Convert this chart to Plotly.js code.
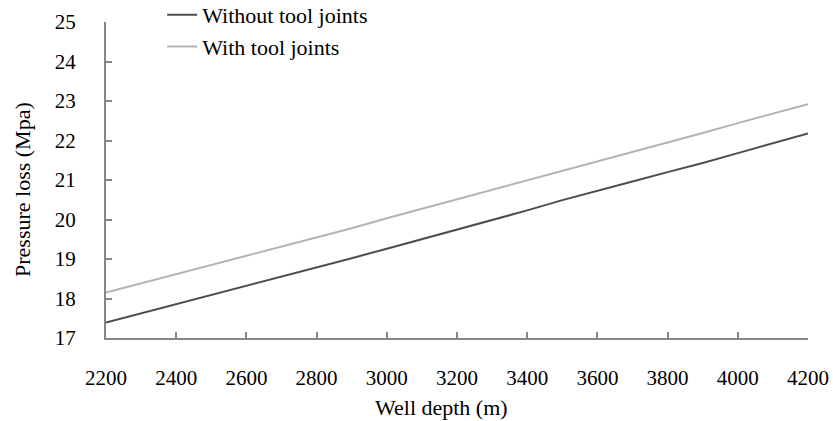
<!DOCTYPE html>
<html>
<head>
<meta charset="utf-8">
<script src="https://cdn.plot.ly/plotly-3.0.1.min.js"></script>
<style>
  html, body { margin: 0; padding: 0; background: #fff; }
  #chart { width: 833px; height: 421px; }
</style>
</head>
<body>
<div id="chart"></div>
<script>
// Well depth (m)
const depth = [2200, 2300, 2400, 2500, 2600, 2700, 2800, 2900, 3000, 3100, 3200,
               3300, 3400, 3500, 3600, 3700, 3800, 3900, 4000, 4100, 4200];

// Pressure loss (MPa)
const withoutJoints = [17.39, 17.62, 17.86, 18.09, 18.32, 18.56, 18.79, 19.02, 19.26, 19.50, 19.74,
                       19.99, 20.23, 20.49, 20.72, 20.96, 21.20, 21.43, 21.68, 21.93, 22.18];
const withJoints = [18.15, 18.38, 18.61, 18.85, 19.08, 19.31, 19.55, 19.78, 20.03, 20.27, 20.50,
                    20.74, 20.98, 21.23, 21.47, 21.71, 21.95, 22.19, 22.44, 22.68, 22.92];

const xTicks = [2200, 2400, 2600, 2800, 3000, 3200, 3400, 3600, 3800, 4000, 4200];
const yTicks = [17, 18, 19, 20, 21, 22, 23, 24, 25];

const xTitle = 'Well depth (m)';
const yTitle = 'Pressure loss (Mpa)';

const serif = '"Liberation Serif", "Times New Roman", serif';
const tickFont = { family: serif, size: 21, color: '#000' };
const titleFont = { family: serif, size: 22, color: '#000' };
const legendFont = { family: serif, size: 22, color: '#000' };
const axisColor = '#868686';

const traces = [
  {
    x: depth, y: withoutJoints, type: 'scatter', mode: 'lines',
    name: 'Without tool joints', legendgroup: 'a',
    line: { color: '#4d4d4d', width: 2 }
  },
  {
    x: depth, y: withJoints, type: 'scatter', mode: 'lines',
    name: 'With tool joints', legendgroup: 'b',
    line: { color: '#b3b3b3', width: 2 }
  }
];

const layout = {
  width: 833, height: 421,
  margin: { l: 106, r: 25, t: 22, b: 83, autoexpand: false },
  paper_bgcolor: '#fff', plot_bgcolor: '#fff',
  font: titleFont,
  showlegend: true,
  legend: {
    x: 0.08, y: 1.0886, xanchor: 'left', yanchor: 'top',
    bgcolor: 'rgba(0,0,0,0)', font: legendFont, tracegroupgap: 0
  },
  xaxis: {
    range: [2200, 4200], tickvals: xTicks, ticktext: xTicks.map(String),
    showgrid: false, zeroline: false, automargin: false,
    showline: true, linecolor: axisColor, linewidth: 2,
    ticks: 'inside', ticklen: 6, tickwidth: 2, tickcolor: axisColor,
    tickfont: tickFont, ticklabelstandoff: 20
  },
  yaxis: {
    range: [17, 25], tickvals: yTicks, ticktext: yTicks.map(String),
    showgrid: false, zeroline: false, automargin: false,
    showline: true, linecolor: axisColor, linewidth: 2,
    ticks: 'inside', ticklen: 6, tickwidth: 2, tickcolor: axisColor,
    tickfont: tickFont, ticklabelstandoff: 24
  },
  // axis titles placed as annotations for finer control of their position
  annotations: [
    {
      text: xTitle, font: titleFont, showarrow: false,
      xref: 'paper', yref: 'paper', x: 0.4786, y: -0.2184,
      xanchor: 'center', yanchor: 'middle'
    },
    {
      text: yTitle, font: titleFont, showarrow: false, textangle: -90,
      xref: 'paper', yref: 'paper', x: -0.1197, y: 0.4715,
      xanchor: 'center', yanchor: 'middle'
    }
  ]
};

Plotly.newPlot('chart', traces, layout, { displayModeBar: false, staticPlot: true });
</script>
</body>
</html>
